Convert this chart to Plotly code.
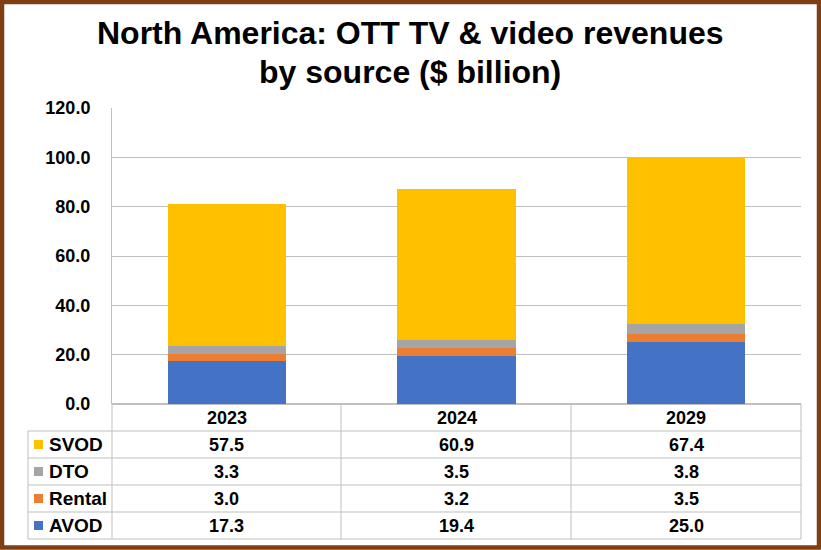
import plotly.graph_objects as go

years = ["2023", "2024", "2029"]
sources = ["AVOD", "Rental", "DTO", "SVOD"]
avod = [17.3, 19.4, 25.0]
rental = [3.0, 3.2, 3.5]
dto = [3.3, 3.5, 3.8]
svod = [57.5, 60.9, 67.4]
colors = {"AVOD": "#4472C4", "Rental": "#ED7D31", "DTO": "#A5A5A5", "SVOD": "#FFC000"}
values = {"AVOD": avod, "Rental": rental, "DTO": dto, "SVOD": svod}
table_order = ["SVOD", "DTO", "Rental", "AVOD"]

W, H = 821, 550
L, R, T, B = 112, 801, 108, 404  # plot area in pixels


def px(x):
    return (x - L) / (R - L)


def py(y):
    return (B - y) / (B - T)


grid = "#BFBFBF"
fnt = "Liberation Sans, Arial, sans-serif"

fig = go.Figure()
xs = list(range(len(years)))
for s in sources:
    fig.add_trace(go.Bar(x=xs, y=values[s], name=s, marker_color=colors[s],
                         marker_line_width=0, width=0.515))

shapes = []
annotations = []

# table lines
row_h = 27
rows_y = [B + row_h * k for k in range(6)]
for k, y in enumerate(rows_y[1:], start=1):
    shapes.append(dict(type="line", xref="paper", yref="paper",
                       x0=px(28), x1=px(R), y0=py(y), y1=py(y),
                       line=dict(color=grid, width=1)))
for xv in [L, 341, 571, R]:
    shapes.append(dict(type="line", xref="paper", yref="paper",
                       x0=px(xv), x1=px(xv), y0=py(B), y1=py(rows_y[-1]),
                       line=dict(color=grid, width=1)))
shapes.append(dict(type="line", xref="paper", yref="paper",
                   x0=px(28), x1=px(28), y0=py(rows_y[1]), y1=py(rows_y[-1]),
                   line=dict(color=grid, width=1)))

# header
for i, yr in enumerate(years):
    annotations.append(dict(x=i, xref="x", y=py(B + row_h / 2), yref="paper",
                            text="<b>%s</b>" % yr, showarrow=False,
                            xanchor="center", yanchor="middle",
                            font=dict(size=18, color="black", family=fnt)))

for r, s in enumerate(table_order):
    yc = py(rows_y[r + 1] + row_h / 2)
    shapes.append(dict(type="rect", xref="paper", yref="paper",
                       x0=px(34), x1=px(43), y0=yc - 4.5 / (B - T), y1=yc + 4.5 / (B - T),
                       fillcolor=colors[s], line_width=0))
    annotations.append(dict(x=px(47), xref="paper", y=yc, yref="paper",
                            text="<b>%s</b>" % s, showarrow=False,
                            xanchor="left", yanchor="middle",
                            font=dict(size=19, color="black", family=fnt)))
    for i, v in enumerate(values[s]):
        annotations.append(dict(x=i, xref="x", y=yc, yref="paper",
                                text="<b>%.1f</b>" % v, showarrow=False,
                                xanchor="center", yanchor="middle",
                                font=dict(size=18, color="black", family=fnt)))

# title
annotations.append(dict(x=px(410), xref="paper", y=py(33), yref="paper",
                        text="<b>North America: OTT TV & video revenues</b>",
                        showarrow=False, xanchor="center", yanchor="middle",
                        font=dict(size=32, color="black", family=fnt)))
annotations.append(dict(x=px(410), xref="paper", y=py(72), yref="paper",
                        text="<b>by source ($ billion)</b>",
                        showarrow=False, xanchor="center", yanchor="middle",
                        font=dict(size=32, color="black", family=fnt)))

# outer brown frame
shapes.append(dict(type="rect", xref="paper", yref="paper",
                   x0=px(2), x1=px(W - 2), y0=py(H - 2.5), y1=py(2),
                   line=dict(color="#7F3F12", width=4.5), fillcolor="rgba(0,0,0,0)"))

fig.update_layout(
    width=W, height=H,
    margin=dict(l=L, r=W - R, t=T, b=H - B),
    barmode="stack",
    showlegend=False,
    plot_bgcolor="white", paper_bgcolor="white",
    font=dict(family=fnt, color="black"),
    xaxis=dict(range=[-0.5, 2.5], showticklabels=False, showgrid=False,
               zeroline=False, showline=False, fixedrange=True),
    yaxis=dict(range=[0, 120], dtick=20, tickformat=".1f", showgrid=True,
               gridcolor=grid, gridwidth=1, zeroline=True, zerolinecolor=grid,
               showline=True, linecolor=grid, linewidth=1,
               ticks="outside", ticklen=17, tickcolor="rgba(0,0,0,0)",
               tickfont=dict(size=18, color="black", family=fnt),
               tickprefix="<b>", ticksuffix="</b>"),
    shapes=shapes,
    annotations=annotations,
)

fig.write_html("out.html", config={"displayModeBar": False},
               post_script="document.body.style.margin='0px';")
